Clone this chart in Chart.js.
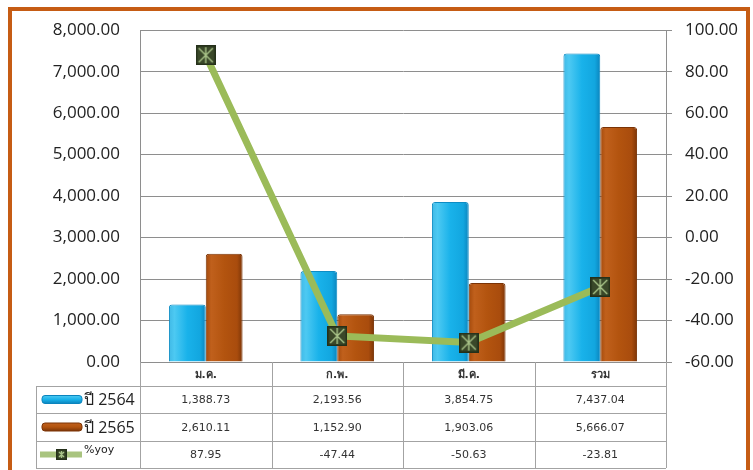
<!DOCTYPE html>
<html lang="th">
<head>
    <meta charset="UTF-8">
    <title>ปี 2564 / ปี 2565 / %yoy</title>
    <script src="https://cdn.jsdelivr.net/npm/chart.js"></script>
    <style>
        html, body {
            margin: 0;
            padding: 0;
            background: #fff;
            overflow: hidden;
        }
        .wrap {
            position: relative;
            width: 753px;
            height: 470px;
        }
        .frame {
            position: absolute;
            left: 8px;
            top: 7px;
            width: 742px;
            height: 480px;
            box-sizing: border-box;
            border: 4px solid #c65c14;
            pointer-events: none;
        }
        canvas {
            position: absolute;
            left: 0;
            top: 0;
        }
    </style>
</head>
<body>
<div class="wrap">
    <canvas id="chart" width="753" height="470"></canvas>
    <div class="frame"></div>
</div>

<script>
// --- data ---
const categories = ['ม.ค.', 'ก.พ.', 'มี.ค.', 'รวม'];
const year2564 = [1388.73, 2193.56, 3854.75, 7437.04];
const year2565 = [2610.11, 1152.90, 1903.06, 5666.07];
const yoy = [87.95, -47.44, -50.63, -23.81];
const seriesNames = ['ปี 2564', 'ปี 2565', '%yoy'];

const CAT_PCT = 0.56;
const GRID = '#8e8e8e';
const TICK_FONT = { family: '"Open Sans", "DejaVu Sans", sans-serif', size: 17 };

function fmt(v) {
    return v.toLocaleString('en-US', { minimumFractionDigits: 2, maximumFractionDigits: 2 });
}

// marker: dark square with a light cross
function makeMarker(size) {
    const c = document.createElement('canvas');
    c.width = size; c.height = size;
    const g = c.getContext('2d');
    g.fillStyle = '#3a4829';
    g.fillRect(0, 0, size, size);
    g.strokeStyle = '#25301a';
    g.lineWidth = 1.5;
    g.strokeRect(0.75, 0.75, size - 1.5, size - 1.5);
    g.strokeStyle = '#a9c489';
    g.lineWidth = 1.4;
    g.beginPath();
    g.moveTo(3, 3); g.lineTo(size - 3, size - 3);
    g.moveTo(size - 3, 3); g.lineTo(3, size - 3);
    g.moveTo(size / 2, 2); g.lineTo(size / 2, size - 2);
    g.stroke();
    return c;
}
const marker = makeMarker(20);
const smallMarker = makeMarker(11);

// horizontal cylinder-like gradient for each bar
function barFill(stops, side) {
    return function (ctx) {
        const chart = ctx.chart;
        const xs = chart.scales.x;
        if (ctx.type !== 'data' || !xs || !xs.width) return stops[2];
        const center = xs.getPixelForValue(ctx.dataIndex);
        const bw = xs.width / categories.length * CAT_PCT / 2;
        const x0 = side < 0 ? center - bw : center;
        const g = chart.ctx.createLinearGradient(x0, 0, x0 + bw, 0);
        g.addColorStop(0, stops[0]);
        g.addColorStop(0.15, stops[1]);
        g.addColorStop(0.5, stops[2]);
        g.addColorStop(0.85, stops[3]);
        g.addColorStop(1, stops[4]);
        return g;
    };
}
const blueStops = ['#3fb9e6', '#4dc9f2', '#19b2ea', '#12a6df', '#0b84bd'];
const brownStops = ['#a44a0c', '#c0601c', '#b3540f', '#a94c0d', '#7c3507'];

// data table under the plot
const tablePlugin = {
    id: 'dataTable',
    afterDraw(chart) {
        const ctx = chart.ctx;
        const area = chart.chartArea;
        const n = categories.length;
        const colW = (area.right - area.left) / n;
        const tableLeft = 36;
        const rows = [area.bottom, 386, 413, 441, 468];

        ctx.save();
        ctx.strokeStyle = '#a3a3a3';
        ctx.lineWidth = 1;
        ctx.beginPath();
        for (let r = 1; r < rows.length; r++) {
            ctx.moveTo(tableLeft, rows[r] + 0.5);
            ctx.lineTo(area.right, rows[r] + 0.5);
        }
        ctx.moveTo(tableLeft + 0.5, rows[1]);
        ctx.lineTo(tableLeft + 0.5, rows[4]);
        for (let i = 0; i <= n; i++) {
            const x = Math.round(area.left + colW * i) + 0.5;
            ctx.moveTo(x, rows[0]);
            ctx.lineTo(x, rows[4]);
        }
        ctx.stroke();

        // header: category names
        ctx.fillStyle = '#333';
        ctx.textAlign = 'center';
        ctx.textBaseline = 'middle';
        ctx.font = 'bold 11px "DejaVu Sans", sans-serif';
        categories.forEach((c, i) => {
            ctx.fillText(c, area.left + colW * (i + 0.5), (rows[0] + rows[1]) / 2 + 1);
        });

        // values
        const series = [year2564, year2565, yoy];
        ctx.font = '11px "DejaVu Sans", sans-serif';
        series.forEach((vals, r) => {
            const yMid = (rows[r + 1] + rows[r + 2]) / 2;
            vals.forEach((v, i) => {
                ctx.fillText(fmt(v), area.left + colW * (i + 0.5), yMid + 1);
            });
        });

        // legend keys
        const keyL = 42, keyR = 82;
        [[blueStops, 0], [brownStops, 1]].forEach(([stops, r]) => {
            const yMid = (rows[r + 1] + rows[r + 2]) / 2;
            const g = ctx.createLinearGradient(0, yMid - 4, 0, yMid + 4);
            g.addColorStop(0, stops[1]);
            g.addColorStop(0.5, stops[2]);
            g.addColorStop(1, stops[4]);
            ctx.fillStyle = g;
            ctx.beginPath();
            ctx.roundRect(keyL, yMid - 4, keyR - keyL, 8, 3);
            ctx.fill();
            ctx.strokeStyle = stops[4];
            ctx.stroke();
        });
        const yMid3 = (rows[3] + rows[4]) / 2;
        ctx.strokeStyle = '#a9c47f';
        ctx.lineWidth = 6;
        ctx.beginPath();
        ctx.moveTo(keyL - 2, yMid3);
        ctx.lineTo(keyR, yMid3);
        ctx.stroke();
        ctx.drawImage(smallMarker, 56, yMid3 - 5.5);

        ctx.fillStyle = '#222';
        ctx.textAlign = 'left';
        ctx.font = '16px "Open Sans", "DejaVu Sans", sans-serif';
        ctx.fillText(seriesNames[0], 84, (rows[1] + rows[2]) / 2 + 1);
        ctx.fillText(seriesNames[1], 84, (rows[2] + rows[3]) / 2 + 1);
        ctx.font = '11px "DejaVu Sans", sans-serif';
        ctx.fillText(seriesNames[2], 84, yMid3 - 4);
        ctx.restore();
    }
};

new Chart(document.getElementById('chart'), {
    data: {
        labels: categories,
        datasets: [
            {
                type: 'line',
                label: seriesNames[2],
                data: yoy,
                yAxisID: 'y2',
                order: 0,
                borderColor: '#9bbb59',
                borderWidth: 7,
                pointStyle: marker,
                pointRadius: 10,
                pointHoverRadius: 10,
                tension: 0
            },
            {
                type: 'bar',
                label: seriesNames[0],
                data: year2564,
                yAxisID: 'y',
                order: 1,
                backgroundColor: barFill(blueStops, -1),
                borderColor: '#0d8cc4',
                borderWidth: 1,
                borderRadius: { topLeft: 3, topRight: 3 },
                borderSkipped: 'bottom',
                categoryPercentage: CAT_PCT,
                barPercentage: 1.0
            },
            {
                type: 'bar',
                label: seriesNames[1],
                data: year2565,
                yAxisID: 'y',
                order: 1,
                backgroundColor: barFill(brownStops, 1),
                borderColor: '#7a3306',
                borderWidth: 1,
                borderRadius: { topLeft: 3, topRight: 3 },
                borderSkipped: 'bottom',
                categoryPercentage: CAT_PCT,
                barPercentage: 1.0
            }
        ]
    },
    options: {
        responsive: false,
        animation: false,
        layout: { padding: { top: 28, bottom: 108, left: 0, right: 0 } },
        plugins: {
            legend: { display: false },
            tooltip: { enabled: false }
        },
        scales: {
            x: {
                type: 'category',
                display: false,
                offset: true,
                grid: { display: false }
            },
            y: {
                position: 'left',
                min: 0,
                max: 8000,
                ticks: {
                    stepSize: 1000,
                    padding: 20,
                    color: '#222',
                    font: TICK_FONT,
                    callback: v => fmt(v)
                },
                grid: { color: GRID, drawTicks: false },
                border: { color: GRID },
                afterFit: s => { s.width = 140; }
            },
            y2: {
                position: 'right',
                min: -60,
                max: 100,
                ticks: {
                    stepSize: 20,
                    padding: 13,
                    color: '#222',
                    font: TICK_FONT,
                    callback: v => fmt(v)
                },
                grid: { color: GRID, drawOnChartArea: false, tickLength: 6 },
                border: { color: GRID },
                afterFit: s => { s.width = 87; }
            }
        }
    },
    plugins: [tablePlugin]
});
</script>
</body>
</html>
